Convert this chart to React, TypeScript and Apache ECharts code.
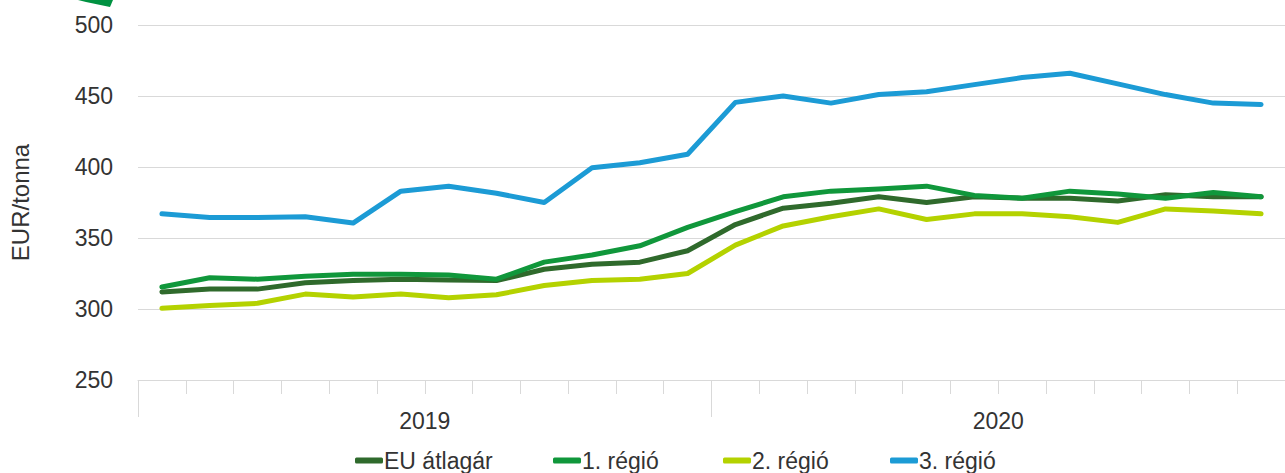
import React, { useEffect, useRef } from "react";
import * as echarts from "echarts";

const months = [
  "2019-01", "2019-02", "2019-03", "2019-04", "2019-05", "2019-06",
  "2019-07", "2019-08", "2019-09", "2019-10", "2019-11", "2019-12",
  "2020-01", "2020-02", "2020-03", "2020-04", "2020-05", "2020-06",
  "2020-07", "2020-08", "2020-09", "2020-10", "2020-11", "2020-12",
];
const years = ["2019", "2020"];

const euAvg = [312, 314, 314, 318.5, 320, 321, 320.5, 320, 328, 331.5, 333, 341, 359.5, 371, 374.5, 379, 375, 379, 378, 378, 376, 380.5, 379, 379];
const region1 = [315.5, 322, 321, 323, 324.5, 324.5, 324, 321, 333, 338, 344.5, 357.5, 368.5, 379, 383, 384.5, 386.5, 380, 378, 383, 381, 378, 382, 379];
const region2 = [300.5, 302.5, 304, 310.5, 308.5, 310.5, 308, 310, 316.5, 320, 321, 325, 345, 358.5, 365, 370.5, 363, 367, 367, 365, 361, 370.5, 369, 367];
const region3 = [367, 364.5, 364.5, 365, 360.5, 383, 386.5, 381.5, 375, 399.5, 403, 409, 445.5, 450, 445, 451, 453, 458, 463, 466, 458.5, 451, 445, 444];

const seriesNames = ["EU átlagár", "1. régió", "2. régió", "3. régió"];
const colors = ["#2f6a2c", "#10973b", "#b4d200", "#1c9bd5"];
const legendLefts = [355, 553, 723, 890];

export default function App() {
  const ref = useRef<HTMLDivElement>(null);
  useEffect(() => {
    if (!ref.current) return;
    const chart = echarts.init(ref.current, null, { renderer: "svg" });
    const font = "'Liberation Sans', Arial, sans-serif";
    const data = [euAvg, region1, region2, region3];
    chart.setOption({
      animation: false,
      textStyle: { fontFamily: font },
      grid: { left: 135, top: 25, width: 1158, height: 355, containLabel: false },
      legend: seriesNames.map((name, i) => ({
        left: legendLefts[i],
        top: 449,
        padding: 0,
        itemWidth: 28,
        itemHeight: 6,
        icon: "roundRect",
        textStyle: { fontSize: 23, lineHeight: 22, color: "#333", fontFamily: font, padding: [0, 0, 0, -4] },
        data: [name],
      })),
      xAxis: [
        {
          type: "category",
          data: months,
          boundaryGap: true,
          position: "bottom",
          axisLine: { show: true, lineStyle: { color: "#d9d9d9", width: 1 } },
          axisTick: { show: true, interval: 0, length: 14, lineStyle: { color: "#d9d9d9" } },
          axisLabel: { show: false },
          splitLine: { show: false },
        },
        {
          type: "category",
          data: years,
          boundaryGap: true,
          position: "bottom",
          axisLine: { show: false },
          axisTick: { show: true, interval: 0, length: 37, lineStyle: { color: "#d9d9d9" } },
          axisLabel: { show: true, margin: 29, fontSize: 23, color: "#333", fontFamily: font },
          splitLine: { show: false },
        },
      ],
      yAxis: {
        type: "value",
        min: 250,
        max: 500,
        interval: 50,
        name: "EUR/tonna",
        nameLocation: "middle",
        nameRotate: 90,
        nameGap: 106,
        nameTextStyle: { fontSize: 24, color: "#333", fontFamily: font },
        axisLine: { show: false },
        axisTick: { show: false },
        axisLabel: { fontSize: 23, color: "#333", margin: 25, fontFamily: font },
        splitLine: { lineStyle: { color: "#d9d9d9", width: 1 } },
      },
      series: seriesNames.map((name, i) => ({
        name,
        type: "line",
        xAxisIndex: 0,
        data: data[i],
        symbol: "none",
        lineStyle: { width: 5, color: colors[i], cap: "round", join: "round" },
        itemStyle: { color: colors[i] },
      })),
      graphic: [
        {
          type: "polygon",
          shape: { points: [[78, 0], [113, 0], [110, 7], [86, 2]] },
          style: { fill: "#009241" },
        },
      ],
    });
    return () => chart.dispose();
  }, []);
  return (
    <div
      ref={ref}
      style={{ position: "fixed", left: 0, top: 0, width: 1285, height: 473, background: "#fff" }}
    />
  );
}
